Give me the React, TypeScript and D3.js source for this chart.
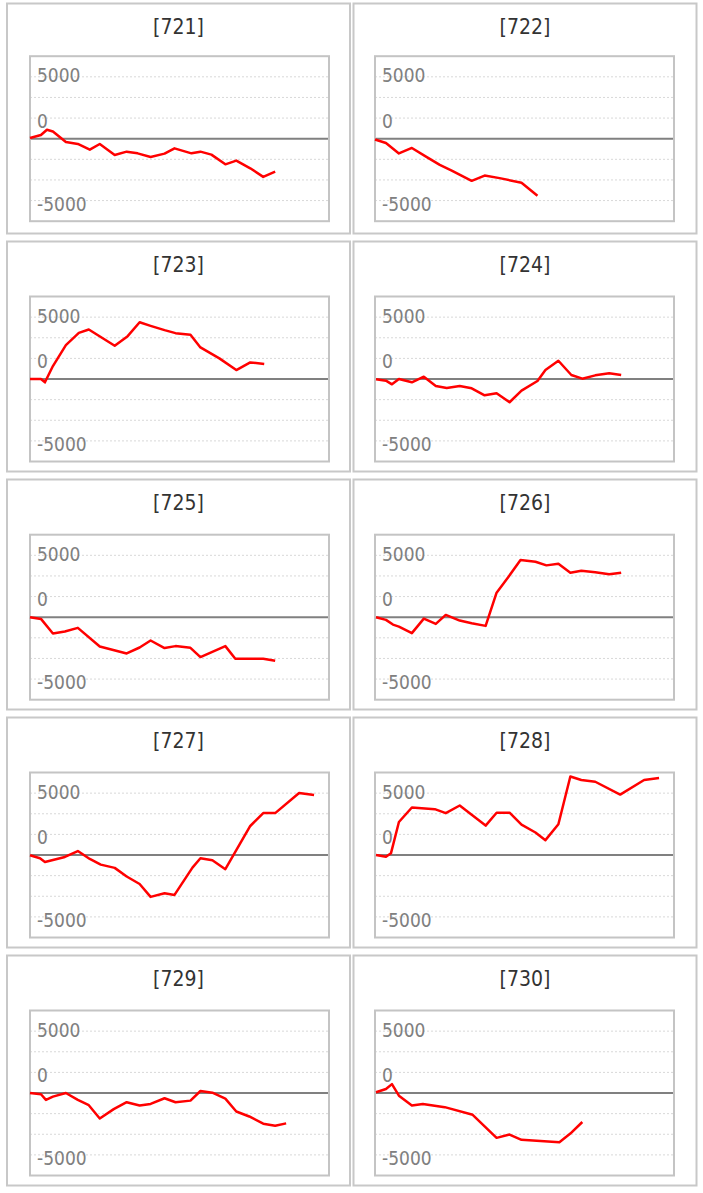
import React from "react";
import * as d3 from "d3";

// ---- data (x: time offset units, y: cumulative value) ----
const panelNames = ["[721]", "[722]", "[723]", "[724]", "[725]", "[726]", "[727]", "[728]", "[729]", "[730]"];

const x721 = [0, 11, 17, 23, 36, 48, 60, 70, 85, 97, 108, 121, 135, 145, 162, 171, 182, 196, 207, 221, 234, 246];
const y721 = [85, 447, 1087, 882, -399, -640, -1329, -640, -1969, -1570, -1775, -2210, -1812, -1172, -1775, -1570, -1933, -3105, -2658, -3588, -4627, -3986];

const x722 = [0, 11, 24, 37, 52, 65, 77, 97, 110, 125, 147, 163];
const y722 = [-97, -520, -1788, -1123, -2234, -3177, -3865, -5110, -4470, -4780, -5340, -6910];

const x723 = [0, 11, 15, 23, 36, 49, 59, 85, 98, 110, 121, 135, 146, 161, 171, 190, 207, 221, 235];
const y723 = [0, 0, -403, 1570, 4107, 5597, 6000, 4027, 5194, 6886, 6443, 5919, 5557, 5355, 3826, 2497, 1087, 2014, 1812];

const x724 = [1, 11, 17, 24, 37, 49, 61, 72, 85, 97, 110, 122, 135, 147, 163, 171, 184, 197, 208, 221, 235, 247];
const y724 = [-40, -201, -644, 0, -403, 282, -846, -1087, -846, -1127, -1973, -1731, -2819, -1409, -242, 1087, 2215, 483, 40, 443, 684, 483];

const x725 = [0, 11, 23, 35, 48, 70, 97, 110, 121, 135, 146, 161, 171, 196, 206, 234, 246];
const y725 = [0, -205, -1981, -1740, -1293, -3552, -4398, -3673, -2827, -3745, -3504, -3709, -4833, -3504, -5037, -5037, -5279];

const x726 = [1, 11, 18, 24, 37, 49, 61, 71, 85, 97, 111, 122, 134, 146, 161, 172, 184, 196, 207, 221, 235, 247];
const y726 = [0, -326, -894, -1135, -1933, -169, -809, 278, -411, -725, -1051, 2972, 4904, 6922, 6717, 6282, 6475, 5388, 5629, 5436, 5194, 5388];

const x727 = [0, 10, 15, 35, 48, 60, 71, 85, 97, 110, 121, 135, 145, 163, 171, 183, 196, 221, 234, 246, 270, 285];
const y727 = [-36, -396, -840, -240, 480, -480, -1164, -1560, -2604, -3516, -5076, -4644, -4836, -1524, -396, -636, -1716, 3516, 5076, 5076, 7524, 7284];

const x728 = [1, 11, 16, 24, 37, 60, 71, 85, 97, 111, 122, 135, 147, 161, 171, 184, 196, 207, 221, 246, 270, 285];
const y728 = [0, -204, 204, 3996, 5760, 5556, 5076, 6000, 4884, 3564, 5124, 5124, 3684, 2724, 1800, 3720, 9516, 9084, 8880, 7320, 9084, 9324];

const x729 = [0, 11, 16, 23, 36, 48, 59, 70, 84, 97, 110, 121, 135, 146, 161, 171, 183, 196, 207, 220, 234, 246, 257];
const y729 = [0, -156, -840, -444, 0, -840, -1476, -3084, -1956, -1116, -1524, -1320, -636, -1116, -924, 240, 36, -684, -2244, -2844, -3720, -3960, -3684];

const x730 = [1, 11, 17, 24, 37, 48, 70, 98, 122, 135, 147, 185, 196, 208];
const y730 = [84, 480, 1080, -324, -1524, -1320, -1716, -2640, -5436, -5040, -5676, -5964, -4920, -3516];

const seriesX = [x721, x722, x723, x724, x725, x726, x727, x728, x729, x730];
const seriesY = [y721, y722, y723, y724, y725, y726, y727, y728, y729, y730];

const xDomain = [0, 300];
const yDomain = [-10000, 10000];
const gridValues = [7500, 5000, 2500, -2500, -5000, -7500];
const tickLabels = ["5000", "0", "-5000"];
const tickLabelAt = [7500, 2500, -7500];

// ---- layout ----
const W = 703;
const H = 1193;
const colPanelX = [7, 353.5];
const panelW = 343;
const panelH = 230;
const rowPanelTop = [3.5, 241.5, 479.5, 717.5, 955.5];
const rowZero = [138.7, 379, 617.2, 855, 1093];
const colPlotX = [30, 375];
const plotW = 299;
const plotHalf = 82.5;
const labelDy = [5.6, 9.8, 10];

const FONT = "'DejaVu Sans', Verdana, sans-serif";

function Panel({ idx }: { idx: number }) {
  const col = idx % 2;
  const row = Math.floor(idx / 2);
  const px = colPanelX[col];
  const py = rowPanelTop[row];
  const plotX = colPlotX[col];
  const plotTop = rowZero[row] - plotHalf;
  const plotBottom = rowZero[row] + plotHalf;

  const x = d3.scaleLinear().domain(xDomain).range([plotX, plotX + plotW]);
  const y = d3.scaleLinear().domain(yDomain).range([plotBottom, plotTop]);

  const pts = seriesX[idx].map((v, i) => [v, seriesY[idx][i]] as [number, number]);
  const line = d3
    .line<[number, number]>()
    .x((d) => x(d[0]))
    .y((d) => y(d[1]));

  return (
    <g>
      <rect x={px} y={py} width={panelW} height={panelH} fill="#fff" stroke="#c8c8c8" strokeWidth={2} />
      <text
        x={px + panelW / 2}
        y={py + 30}
        textAnchor="middle"
        fontFamily={FONT}
        fontSize={21}
        style={{ fontStretch: "condensed" }}
        fill="#333"
      >
        {panelNames[idx]}
      </text>
      {gridValues.map((g) => (
        <line
          key={g}
          x1={plotX}
          x2={plotX + plotW}
          y1={y(g)}
          y2={y(g)}
          stroke="#d8d8d8"
          strokeWidth={1}
          strokeDasharray="2,2"
        />
      ))}
      {tickLabels.map((t, i) => (
        <text
          key={t}
          x={plotX + 7}
          y={y(tickLabelAt[i]) + labelDy[i]}
          fontFamily={FONT}
          fontSize={19}
          style={{ fontStretch: "condensed" }}
          fill="#808080"
        >
          {t}
        </text>
      ))}
      <line x1={plotX} x2={plotX + plotW} y1={y(0)} y2={y(0)} stroke="#808080" strokeWidth={2} />
      <rect x={plotX} y={plotTop} width={plotW} height={plotBottom - plotTop} fill="none" stroke="#c4c4c4" strokeWidth={2} />
      <path d={line(pts) || ""} fill="none" stroke="#ff0000" strokeWidth={2.5} strokeLinejoin="round" />
    </g>
  );
}

export default function App() {
  return (
    <svg
      width={W}
      height={H}
      viewBox={`0 0 ${W} ${H}`}
      style={{ position: "absolute", left: 0, top: 0, background: "#fff" }}
    >
      {panelNames.map((_, i) => (
        <Panel key={i} idx={i} />
      ))}
    </svg>
  );
}
